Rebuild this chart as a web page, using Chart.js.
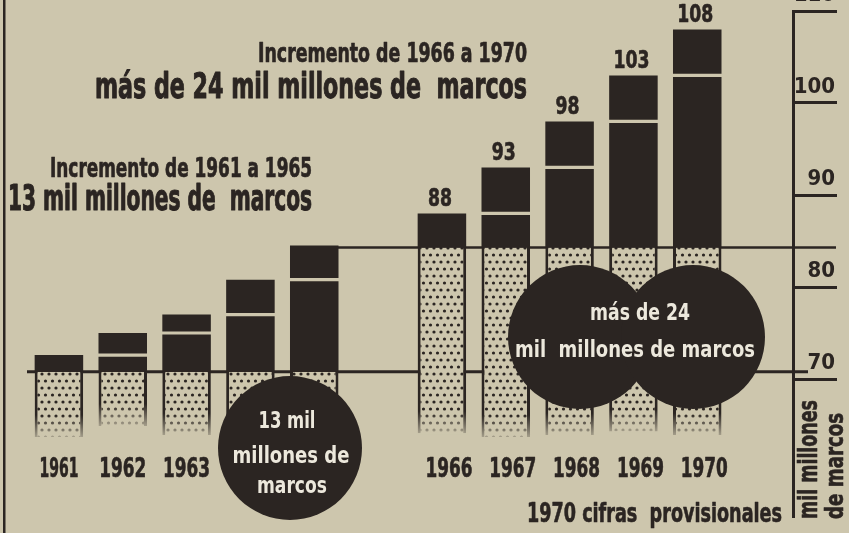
<!DOCTYPE html>
<html><head><meta charset="utf-8">
<script src="https://cdn.jsdelivr.net/npm/chart.js@4.4.1/dist/chart.umd.min.js"></script>
<style>
html,body{margin:0;padding:0;background:#cdc6ad;}
canvas{display:block;}
</style></head><body>
<canvas id="c" width="849" height="533"></canvas>
<script>
// ---- data ----
const years = ['1961','1962','1963','1964','1965','','1966','1967','1968','1969','1970',''];
const values = [72.6, 75.0, 77.0, 80.8, 84.5, null, 88, 93, 98, 103, 108, null];
const valueLabels = ['', '', '', '', '', '', '88', '93', '98', '103', '108', ''];
const baseLevels = [70.8, 70.8, 70.8, 70.8, 70.8, null, 84.3, 84.3, 84.3, 84.3, 84.3, null];
const dotBottoms = [63.7, 64.9, 63.9, 63.8, 63.8, null, 64.1, 63.7, 63.9, 64.3, 63.9, null];
const yTicks = [70, 80, 90, 100, 110];
const lowerBase = 70.8;
const upperBase = 84.3;

// ---- style ----
const INK = '#2b2522', PAPER = '#cdc6ad', WHITE = '#ece8dc';
const FONT = "'Liberation Sans Narrow','DejaVu Sans Condensed','Liberation Sans',sans-serif";

const canvas = document.getElementById('c');
const ctx0 = canvas.getContext('2d');

function makePattern() {
  const t = document.createElement('canvas');
  t.width = 14; t.height = 14;
  const g = t.getContext('2d');
  g.fillStyle = PAPER; g.fillRect(0, 0, 14, 14);
  g.fillStyle = INK;
  const pts = [[3.5,3],[10.5,3],[17.5,3],[-3.5,3],[0,10],[7,10],[14,10]];
  pts.forEach(([x,y]) => { g.beginPath(); g.arc(x, y, 1.6, 0, Math.PI*2); g.fill(); });
  return ctx0.createPattern(t, 'repeat');
}
const dotPattern = makePattern();

const gapData = values.map((v, i) => (i > 0 && v != null && values[i-1] != null) ? [values[i-1] - 0.17, values[i-1] + 0.17] : null);
const darkData = values.map((v, i) => v == null ? null : [baseLevels[i], v]);
const dotData = values.map((v, i) => v == null ? null : [dotBottoms[i], baseLevels[i]]);

function txt(ctx, s, x, baseline, size, targetW, color, align, heavy) {
  ctx.save();
  ctx.font = 'bold ' + size + 'px ' + FONT;
  const w = ctx.measureText(s).width;
  const sx = targetW ? targetW / w : 1;
  ctx.translate(x, baseline);
  ctx.scale(sx, 1);
  ctx.textAlign = align || 'left';
  ctx.textBaseline = 'alphabetic';
  ctx.fillStyle = color;
  ctx.fillText(s, 0, 0);
  if (heavy) {
    ctx.strokeStyle = color;
    ctx.lineWidth = heavy;
    ctx.lineJoin = 'round';
    ctx.strokeText(s, 0, 0);
  }
  ctx.restore();
}

const decor = {
  id: 'decor',
  beforeDatasetsDraw(chart) {
    const {ctx, scales: {x, y}} = chart;
    const dark = chart.getDatasetMeta(1).data;
    ctx.save();
    ctx.strokeStyle = INK;
    ctx.lineWidth = 3;
    const yl = y.getPixelForValue(lowerBase);
    ctx.beginPath(); ctx.moveTo(chart.chartArea.left, yl); ctx.lineTo(808, yl); ctx.stroke();
    const yu = y.getPixelForValue(upperBase);
    const e = dark[4];
    ctx.lineWidth = 2.5;
    ctx.beginPath(); ctx.moveTo(e.x + e.width/2 - 1, yu); ctx.lineTo(836, yu); ctx.stroke();
    ctx.restore();
  },
  afterDatasetsDraw(chart) {
    // fade the lower ends of the dotted columns
    const {ctx} = chart;
    chart.getDatasetMeta(2).data.forEach((el, i) => {
      if (dotData[i] == null) return;
      const yb = el.base > el.y ? el.base : el.y; // bottom pixel
      const h = 22;
      const gr = ctx.createLinearGradient(0, yb - h, 0, yb);
      gr.addColorStop(0, 'rgba(205,198,173,0)');
      gr.addColorStop(1, 'rgba(205,198,173,0.75)');
      ctx.save();
      ctx.fillStyle = gr;
      ctx.fillRect(el.x - el.width/2 - 1, yb - h, el.width + 2, h + 1);
      ctx.restore();
    });
  },
  afterDraw(chart) {
    const {ctx, scales: {x}} = chart;
    const dark = chart.getDatasetMeta(1).data;
    // year labels (condensed lettering)
    years.forEach((lab, i) => {
      if (!lab) return;
      const cx = x.getPixelForValue(i) + (i > 5 ? 7 : 0);
      txt(ctx, lab, cx, 477, 26, lab === '1961' ? 39 : 47, INK, 'center', 0.6);
    });
    // value labels
    dark.forEach((el, i) => {
      if (valueLabels[i]) txt(ctx, valueLabels[i], el.x - 2, el.y - 7, 24, valueLabels[i].length * 12, INK, 'center', 0.6);
    });
    // circles
    ctx.save();
    ctx.fillStyle = INK;
    [[290, 448, 72], [580, 337, 72], [693, 337, 72]].forEach(([cx, cy, r]) => {
      ctx.beginPath(); ctx.arc(cx, cy, r, 0, Math.PI*2); ctx.fill();
    });
    ctx.restore();
    txt(ctx, '13 mil', 287, 428, 23, 57, WHITE, 'center');
    txt(ctx, 'millones de', 291, 463, 23, 117, WHITE, 'center');
    txt(ctx, 'marcos', 292, 493, 23, 70, WHITE, 'center');
    txt(ctx, 'más de 24', 640, 320, 23, 100, WHITE, 'center');
    txt(ctx, 'mil  millones de marcos', 635, 357, 23, 240, WHITE, 'center');
    // headings
    txt(ctx, 'Incremento de 1966 a 1970', 258, 62, 27, 269, INK, 'left', 0.7);
    txt(ctx, 'más de 24 mil millones de  marcos', 95, 98, 35, 432, INK, 'left', 1);
    txt(ctx, 'Incremento de 1961 a 1965', 50, 177, 27, 262, INK, 'left', 0.7);
    txt(ctx, '13 mil millones de  marcos', 8, 210, 35, 304, INK, 'left', 1);
    txt(ctx, '1970 cifras  provisionales', 527, 522, 26, 255, INK, 'left', 0.6);
    // axis title, rotated
    ctx.save(); ctx.translate(817, 519); ctx.rotate(-Math.PI/2);
    txt(ctx, 'mil millones', 0, 0, 26, 119, INK, 'left', 0.6);
    ctx.restore();
    ctx.save(); ctx.translate(843, 519); ctx.rotate(-Math.PI/2);
    txt(ctx, 'de marcos', 0, 0, 25, 106, INK, 'left', 0.6);
    ctx.restore();
    // scanned page edge
    ctx.save(); ctx.fillStyle = INK; ctx.fillRect(3, 0, 2.5, 533); ctx.restore();
  }
};

new Chart(canvas, {
  type: 'bar',
  data: {
    labels: years,
    datasets: [
      {label: 'gap', data: gapData, backgroundColor: PAPER, order: 0, grouped: false, barPercentage: 0.8, categoryPercentage: 1},
      {label: 'value', data: darkData, backgroundColor: INK, order: 1, grouped: false, barPercentage: 0.76, categoryPercentage: 1},
      {label: 'base', data: dotData, backgroundColor: dotPattern, borderColor: INK,
       borderWidth: {left: 3, right: 3, top: 0, bottom: 0}, borderSkipped: false,
       order: 2, grouped: false, barPercentage: 0.76, categoryPercentage: 1}
    ]
  },
  options: {
    responsive: false,
    animation: false,
    devicePixelRatio: 1,
    layout: {padding: {left: 27, top: 11, right: 14, bottom: 16}},
    plugins: {legend: {display: false}, tooltip: {enabled: false}},
    scales: {
      x: {
        position: {y: 62.3},
        grid: {display: false},
        border: {display: false},
        ticks: {display: false}
      },
      y: {
        position: 'right',
        min: 55, max: 110,
        afterBuildTicks: s => { s.ticks = yTicks.map(v => ({value: v})); },
        afterFit: s => { s.width = 42; s.paddingTop = 0; s.paddingBottom = 0; },
        grid: {drawOnChartArea: false, drawTicks: true, tickLength: 44, tickWidth: 3, tickColor: INK},
        border: {display: true, color: INK, width: 3},
        ticks: {color: INK, font: {family: FONT, size: 22, weight: 'bold'}, padding: -40, crossAlign: 'far', labelOffset: -16}
      }
    }
  },
  plugins: [decor]
});
</script>
</body></html>
